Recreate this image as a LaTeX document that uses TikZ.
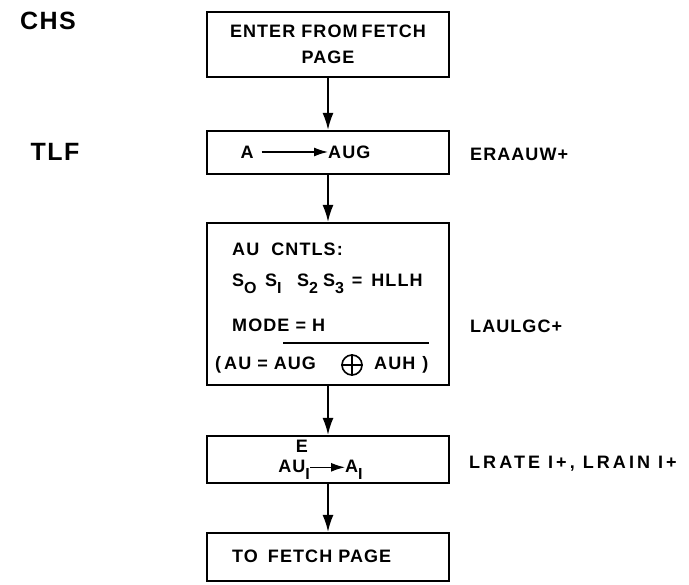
\documentclass[tikz,border=0pt]{standalone}
\usepackage{fontspec}
\setmainfont{Liberation Sans}[LetterSpace=6]
\newfontfamily\widefont{Liberation Sans}[LetterSpace=17]
\usetikzlibrary{arrows.meta}
\tikzset{
  box/.style={draw, line width=2.2pt, minimum width=242pt, inner sep=0pt, align=center},
  txt/.style={font=\bfseries\fontsize{18}{26}\selectfont, inner sep=0pt},
  big/.style={font=\bfseries\fontsize{25}{28}\selectfont, inner sep=0pt},
  side/.style={txt, anchor=west},
  flow/.style={-{Latex[length=17pt,width=11pt]}, line width=1.8pt},
  inflow/.style={-{Latex[length=14pt,width=9pt]}, line width=1.4pt},
}
\newcommand{\lowsub}[1]{\raisebox{-7pt}{\fontsize{16}{18}\selectfont #1}}
\begin{document}
\begin{tikzpicture}[x=1pt,y=-1pt]
      \useasboundingbox (0,0) rectangle (689,585);
      % column labels
      \node[big] (chs) at (48,21) {CHS};
      \node[big] (tlf) at (55,152) {TLF};
      % boxes
      \node[box, txt, minimum height=65pt] (enter) at (328,44.5) {ENTER FROM\hspace{4pt}FETCH\\PAGE};
      \node[box, minimum height=43pt] (move) at (328,152.5) {};
      \node[box, minimum height=162pt] (cntl) at (328,304) {};
      \node[box, minimum height=47pt] (gate) at (328,459.5) {};
      \node[box, minimum height=48pt] (exit) at (328,557) {};
      % box texts
      \node[txt] (a) at (247,152) {A};
      \node[txt, anchor=west] (aug) at (328,152) {AUG};
      \draw[inflow, shorten <=8pt] (a) -- (aug);
      \node[txt, anchor=west] (l1) at (232,249) {AU\ \ CNTLS:};
      \node[txt, anchor=base west] (l2) at (232,287) {S\lowsub{O}\hspace{8.5pt}S\lowsub{I}\hspace{15.5pt}S\lowsub{2}\hspace{5pt}S\lowsub{3}\hspace{8pt}=\hspace{9pt}HLLH};
      \node[txt, anchor=west] (l3) at (232,325) {MODE = H};
      \coordinate (u1) at (283,343);
      \coordinate (u2) at (429,343);
      \draw[line width=1.4pt] (u1) -- (u2);
      \node[txt, anchor=west] (l4) at (215,365) {(\hspace{3pt}AU\hspace{6pt}=\hspace{6pt}AUG};
      \node[draw, circle, line width=1.6pt, minimum size=20pt, inner sep=0pt] (xor) at (352,365) {};
      \draw[line width=1.6pt] (xor.north) -- (xor.south) (xor.west) -- (xor.east);
      \node[txt, anchor=west] (l5) at (374,365) {AUH\hspace{7pt})};
      \node[txt, anchor=base east] (au) at (310,473) {AU\lowsub{I}};
      \node[txt, anchor=base west] (ai) at (345,473) {A\lowsub{I}};
      \node[txt, anchor=base] (e) at (302,453) {E};
      \draw[inflow] ([yshift=3pt]au.east) -- ([yshift=3pt]ai.west);
      \node[txt, anchor=west] (l6) at (232,556) {TO\hspace{10pt}FETCH\hspace{6pt}PAGE};
      % signal names
      \node[side] (s1) at (470,154) {ERAAUW+};
      \node[side] (s2) at (470,326) {LAULGC+};
      \node[side, font=\widefont\bfseries\fontsize{18}{22}\selectfont] (s3) at (469,464) {LRATE I+, LRAIN I+};
      % flow
      \draw[flow] (enter) -- (move);
      \draw[flow] (move) -- (cntl);
      \draw[flow] (cntl) -- (gate);
      \draw[flow] (gate) -- (exit);
\end{tikzpicture}
\end{document}
